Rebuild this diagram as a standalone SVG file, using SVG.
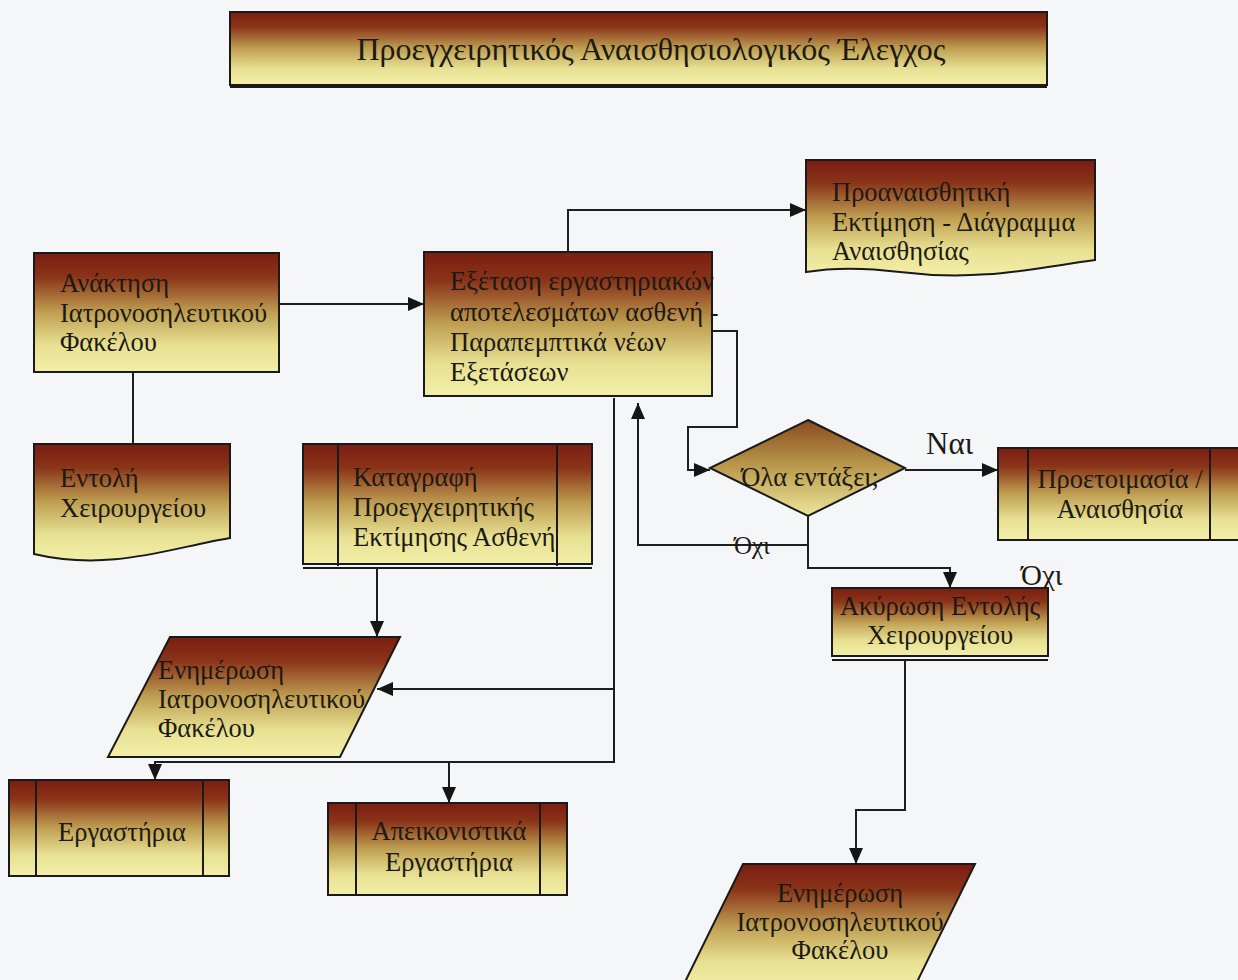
<svg xmlns="http://www.w3.org/2000/svg" width="1238" height="980" viewBox="0 0 1238 980">
  <defs>
    <linearGradient id="fill" x1="0" y1="0" x2="0" y2="1">
      <stop offset="0" stop-color="#7a1d11"/>
      <stop offset="0.2" stop-color="#8a3419"/>
      <stop offset="0.5" stop-color="#bf9f52"/>
      <stop offset="0.78" stop-color="#e8e193"/>
      <stop offset="1" stop-color="#f3efa8"/>
    </linearGradient>
    <linearGradient id="fillDiamond" x1="0" y1="0" x2="0" y2="1">
      <stop offset="0" stop-color="#8a4a1e"/>
      <stop offset="0.5" stop-color="#bb9c4e"/>
      <stop offset="1" stop-color="#ece69c"/>
    </linearGradient>
    <marker id="arrow" markerUnits="userSpaceOnUse" markerWidth="16" markerHeight="14" viewBox="0 0 16 14" refX="16" refY="7" orient="auto">
      <path d="M0,0 L16,7 L0,14 Z" fill="#151515"/>
    </marker>
    <style>
      .shape { fill: url(#fill); stroke: #1a1a1a; stroke-width: 2; }
      .diamond { fill: url(#fillDiamond); stroke: #1a1a1a; stroke-width: 2; }
      .bar { stroke: #1a1a1a; stroke-width: 2; fill: none; }
      .t { font-family: "Liberation Serif", "Times New Roman", serif; font-size: 26.5px; fill: #1c1a14; }
      .c { text-anchor: middle; }
      .title { font-size: 32px; }
      .conn path { fill: none; stroke: #1e1e1e; stroke-width: 2; }
      .arrowed { marker-end: url(#arrow); }
    </style>
  </defs>

  <rect width="1238" height="980" fill="#f4f6f8"/>

  <!-- header -->
  <g id="title">
    <rect class="shape" x="230" y="12" width="817" height="73"/>
    <line x1="230" y1="86" x2="1047" y2="86" stroke="#1a1a1a" stroke-width="4"/>
    <text class="t title c" x="651" y="60">Προεγχειρητικός Αναισθησιολογικός Έλεγχος</text>
  </g>

  <!-- connectors -->
  <g id="connectors" class="conn">
    <path class="arrowed" d="M279,304 H424"/>
    <path d="M133,372 V444"/>
    <path class="arrowed" d="M568,252 V210 H806"/>
    <path class="arrowed" d="M712,331 H737 V427 H688 V470 H710"/>
    <path class="arrowed" d="M905,470 H998"/>
    <path class="arrowed" d="M808,516 V545 H638 V403"/>
    <path class="arrowed" d="M808,545 V568 H950 V588"/>
    <path class="arrowed" d="M614,398 V762 H155 V780"/>
    <path class="arrowed" d="M614,689 H377"/>
    <path class="arrowed" d="M449,762 V803"/>
    <path class="arrowed" d="M377,568 V637"/>
    <path class="arrowed" d="M905,660 V810 H856 V864"/>
  </g>

  <!-- edge labels -->
  <g id="labels">
    <text class="t" x="926" y="454" style="font-size:31px">Ναι</text>
    <text class="t" x="734" y="554" style="font-size:25px">Όχι</text>
    <text class="t" x="1021" y="585" style="font-size:29px">Όχι</text>
  </g>

  <g id="n-retrieve">
    <rect class="shape" x="34" y="253" width="245" height="119"/>
    <text class="t" x="60" y="292">Ανάκτηση</text>
    <text class="t" x="60" y="322">Ιατρονοσηλευτικού</text>
    <text class="t" x="60" y="351">Φακέλου</text>
  </g>

  <g id="n-order">
    <path class="shape" d="M34,444 H230 V538 C170,548 110,572 34,554 Z"/>
    <text class="t" x="60" y="487">Εντολή</text>
    <text class="t" x="60" y="517">Χειρουργείου</text>
  </g>

  <g id="n-review">
    <rect class="shape" x="424" y="252" width="288" height="144"/>
    <text class="t" x="450" y="290">Εξέταση εργαστηριακών</text>
    <text class="t" x="450" y="321">αποτελεσμάτων ασθενή -</text>
    <text class="t" x="450" y="351">Παραπεμπτικά νέων</text>
    <text class="t" x="450" y="381">Εξετάσεων</text>
  </g>

  <g id="n-preassess">
    <path class="shape" d="M806,160 H1095 V260 C1035,268 980,282 900,272 C860,267 830,268 806,272 Z"/>
    <text class="t" x="832" y="201">Προαναισθητική</text>
    <text class="t" x="832" y="231">Εκτίμηση - Διάγραμμα</text>
    <text class="t" x="832" y="260">Αναισθησίας</text>
  </g>

  <g id="n-record">
    <rect class="shape" x="303" y="444" width="289" height="120"/>
    <line class="bar" x1="338" y1="444" x2="338" y2="566"/>
    <line class="bar" x1="557" y1="444" x2="557" y2="566"/>
    <line class="bar" x1="303" y1="568" x2="592" y2="568"/>
    <text class="t" x="353" y="486">Καταγραφή</text>
    <text class="t" x="353" y="516">Προεγχειρητικής</text>
    <text class="t" x="353" y="546">Εκτίμησης Ασθενή</text>
  </g>

  <g id="n-decision">
    <polygon class="diamond" points="808,420 905,468 808,516 710,468"/>
    <text class="t c" x="810" y="486">Όλα εντάξει;</text>
  </g>

  <g id="n-prepare">
    <rect class="shape" x="998" y="448" width="242" height="92"/>
    <line class="bar" x1="1028" y1="448" x2="1028" y2="540"/>
    <line class="bar" x1="1210" y1="448" x2="1210" y2="540"/>
    <text class="t c" x="1120" y="488">Προετοιμασία /</text>
    <text class="t c" x="1120" y="518">Αναισθησία</text>
  </g>

  <g id="n-cancel">
    <rect class="shape" x="832" y="588" width="216" height="68"/>
    <line class="bar" x1="832" y1="660" x2="1048" y2="660"/>
    <text class="t c" x="940" y="615">Ακύρωση Εντολής</text>
    <text class="t c" x="940" y="644">Χειρουργείου</text>
  </g>

  <g id="n-update-1">
    <polygon class="shape" points="170,637 400,637 340,757 108,757"/>
    <text class="t" x="158" y="679">Ενημέρωση</text>
    <text class="t" x="158" y="708">Ιατρονοσηλευτικού</text>
    <text class="t" x="158" y="737">Φακέλου</text>
  </g>

  <g id="n-labs">
    <rect class="shape" x="9" y="780" width="220" height="96"/>
    <line class="bar" x1="36" y1="780" x2="36" y2="876"/>
    <line class="bar" x1="203" y1="780" x2="203" y2="876"/>
    <text class="t c" x="122" y="841">Εργαστήρια</text>
  </g>

  <g id="n-imaging">
    <rect class="shape" x="328" y="803" width="239" height="92"/>
    <line class="bar" x1="356" y1="803" x2="356" y2="895"/>
    <line class="bar" x1="540" y1="803" x2="540" y2="895"/>
    <text class="t c" x="449" y="840">Απεικονιστικά</text>
    <text class="t c" x="449" y="871">Εργαστήρια</text>
  </g>

  <g id="n-update-2">
    <polygon class="shape" points="743,864 975,864 913,990 681,990"/>
    <text class="t c" x="840" y="902">Ενημέρωση</text>
    <text class="t c" x="840" y="931">Ιατρονοσηλευτικού</text>
    <text class="t c" x="840" y="959">Φακέλου</text>
  </g>
</svg>
